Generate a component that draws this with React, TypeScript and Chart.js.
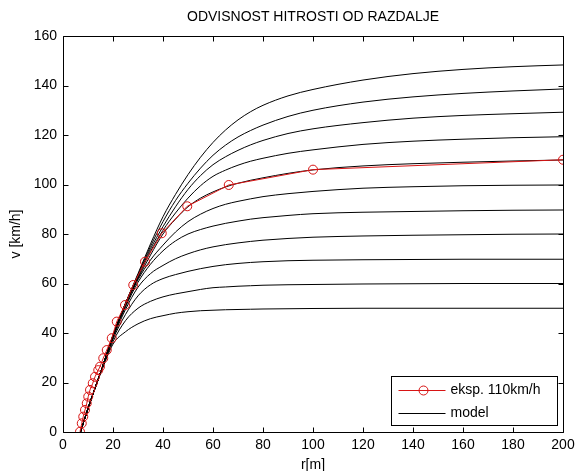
import React, { useEffect, useRef } from "react";
import { Chart, registerables } from "chart.js";

Chart.register(...registerables);

const FONT = '"Liberation Sans", Arial, Helvetica, sans-serif';

const TITLE = "ODVISNOST HITROSTI OD RAZDALJE";
const X_LABEL = "r[m]";
const Y_LABEL = "v [km/h]";
const LEGEND_EXP = "eksp. 110km/h";
const LEGEND_MODEL = "model";

const X_TICKS = [0, 20, 40, 60, 80, 100, 120, 140, 160, 180, 200];
const Y_TICKS = [0, 20, 40, 60, 80, 100, 120, 140, 160];

// experimental measurement (red circles)
const expR = [6.8, 7.5, 8.1, 8.8, 9.5, 10.1, 10.8, 11.9, 12.8, 14.1, 14.8, 16.1, 17.5, 19.5, 21.5, 24.8, 28.1, 32.8, 39.5, 49.7, 66.3, 100, 200];
const expV = [0.1, 3.5, 6.2, 8.9, 11.6, 14.3, 17, 19.7, 22.3, 25, 26.4, 29.8, 33.1, 37.9, 44.6, 51.3, 59.4, 68.8, 80.3, 91.2, 99.8, 106, 110];

// model curves (black)
const modelR = [7, 10, 15, 20, 25, 30, 35, 40, 45, 50, 55, 60, 65, 70, 75, 80, 90, 100, 120, 140, 160, 180, 200];
const model50 = [0, 9.5, 23.5, 35.5, 40.5, 43.7, 45.8, 47, 48, 48.6, 49, 49.2, 49.4, 49.5, 49.6, 49.7, 49.8, 49.9, 50, 50, 50, 50, 50];
const model60 = [0, 9.5, 24, 36.5, 45, 50, 52.8, 54.6, 55.8, 56.7, 57.6, 58.3, 58.6, 58.9, 59.1, 59.3, 59.5, 59.6, 59.8, 59.9, 60, 60, 60];
const model70 = [0, 9.5, 24, 37.5, 47.5, 55, 59.5, 62, 63.6, 64.9, 66, 66.9, 67.6, 68.1, 68.5, 68.8, 69.2, 69.4, 69.6, 69.7, 69.8, 69.8, 69.8];
const model80 = [0, 9.5, 24, 38, 49.5, 58.5, 64, 67.3, 70, 72, 73.6, 74.8, 75.7, 76.4, 77, 77.5, 78.2, 78.7, 79.2, 79.5, 79.7, 79.9, 80];
const model90 = [0, 9.5, 24, 38.5, 50.5, 60.5, 67.8, 73.2, 77.2, 80, 81.8, 83.2, 84.3, 85.2, 86, 86.6, 87.5, 88.2, 88.8, 89.1, 89.4, 89.6, 89.7];
const model100 = [0, 9.5, 24, 38.5, 51, 61.5, 69.5, 75.5, 80.8, 85, 88, 90.3, 92, 93.2, 94.2, 95.1, 96.3, 97.2, 98.5, 99.1, 99.5, 99.7, 99.8];
const model110 = [0, 9.5, 24, 39, 51.5, 62, 71.5, 80, 86, 91, 94.5, 97, 99, 100.5, 101.7, 102.7, 104.5, 105.9, 107.5, 108.4, 109, 109.5, 109.9];
const model120 = [0, 9.5, 24, 39, 52, 62.5, 73, 81.5, 88.5, 94.5, 99.5, 103.3, 105.8, 107.8, 109.4, 110.6, 112.6, 114, 116.2, 117.5, 118.3, 118.9, 119.3];
const model130 = [0, 9.5, 24, 39, 52, 63, 74, 83, 91, 98, 103.6, 108, 111.2, 113.8, 116, 117.8, 120.6, 122.5, 125, 126.8, 127.9, 128.6, 129.2];
const model140 = [0, 9.5, 24, 39, 52, 63.5, 75, 85, 93.5, 100.5, 106.6, 111.8, 115.9, 119.2, 121.8, 124, 127.5, 130, 133.3, 135.4, 136.8, 137.8, 138.6];
const model150 = [0, 9.5, 24, 39, 52, 64, 76, 87, 96, 104, 111, 117, 122, 126.1, 129.4, 132, 135.8, 138.4, 142.2, 144.8, 146.5, 147.6, 148.3];

const MODELS = [model50, model60, model70, model80, model90, model100, model110, model120, model130, model140, model150];

const RED = "#d81414";

const framePlugin = {
  id: "matlabFrame",
  beforeDraw(chart: any) {
    const ctx = chart.ctx;
    ctx.save();
    ctx.fillStyle = "#ffffff";
    ctx.fillRect(0, 0, chart.width, chart.height);
    ctx.restore();
  },
  afterDraw(chart: any) {
    const ctx = chart.ctx;
    const a = chart.chartArea;
    const xs = chart.scales.x;
    const ys = chart.scales.y;
    const L = Math.round(a.left) + 0.5;
    const R = Math.round(a.right) + 0.5;
    const T = Math.round(a.top) + 0.5;
    const B = Math.round(a.bottom) + 0.5;
    const tl = 5;
    ctx.save();
    ctx.strokeStyle = "#000";
    ctx.lineWidth = 1;
    ctx.beginPath();
    ctx.rect(L, T, R - L, B - T);
    X_TICKS.forEach((v) => {
      const px = Math.round(xs.getPixelForValue(v)) + 0.5;
      ctx.moveTo(px, B);
      ctx.lineTo(px, B - tl);
      ctx.moveTo(px, T);
      ctx.lineTo(px, T + tl);
    });
    Y_TICKS.forEach((v) => {
      const py = Math.round(ys.getPixelForValue(v)) + 0.5;
      ctx.moveTo(L, py);
      ctx.lineTo(L + tl, py);
      ctx.moveTo(R, py);
      ctx.lineTo(R - tl, py);
    });
    ctx.stroke();

    // title and axis labels
    ctx.fillStyle = "#000";
    ctx.font = `14px ${FONT}`;
    ctx.textAlign = "center";
    ctx.textBaseline = "middle";
    const cx = (a.left + a.right) / 2;
    ctx.fillText(TITLE, cx, 17);
    ctx.fillText(X_LABEL, cx, 465);
    ctx.save();
    ctx.translate(16, (a.top + a.bottom) / 2);
    ctx.rotate(-Math.PI / 2);
    ctx.fillText(Y_LABEL, 0, 0);
    ctx.restore();

    // legend
    const lw = 166;
    const lh = 49;
    const lx = Math.round(a.right) - 6 - lw + 0.5;
    const ly = Math.round(a.bottom) - 7 - lh + 0.5;
    ctx.fillStyle = "#fff";
    ctx.fillRect(lx, ly, lw, lh);
    ctx.strokeStyle = "#000";
    ctx.strokeRect(lx, ly, lw, lh);
    const r1 = ly + 14;
    const r2 = ly + 37;
    ctx.strokeStyle = RED;
    ctx.beginPath();
    ctx.moveTo(lx + 7, r1);
    ctx.lineTo(lx + 54, r1);
    ctx.stroke();
    ctx.beginPath();
    ctx.arc(lx + 32, r1, 4.5, 0, Math.PI * 2);
    ctx.stroke();
    ctx.strokeStyle = "#000";
    ctx.beginPath();
    ctx.moveTo(lx + 7, r2);
    ctx.lineTo(lx + 54, r2);
    ctx.stroke();
    ctx.fillStyle = "#000";
    ctx.textAlign = "left";
    ctx.fillText(LEGEND_EXP, lx + 59, r1);
    ctx.fillText(LEGEND_MODEL, lx + 59, r2);
    ctx.restore();
  },
};

export default function App() {
  const ref = useRef<HTMLCanvasElement>(null);

  useEffect(() => {
    const datasets: any[] = [
      {
        label: LEGEND_EXP,
        data: expR.map((r, i) => ({ x: r, y: expV[i] })),
        showLine: true,
        borderColor: RED,
        borderWidth: 1,
        pointRadius: 4.5,
        pointBorderWidth: 1,
        pointBorderColor: RED,
        pointBackgroundColor: "rgba(0,0,0,0)",
        pointStyle: "circle",
        tension: 0,
      },
      ...MODELS.map((vals, k) => ({
        label: k === 0 ? LEGEND_MODEL : `model ${k}`,
        data: modelR.map((r, i) => ({ x: r, y: vals[i] })),
        showLine: true,
        borderColor: "#000",
        borderWidth: 1,
        pointRadius: 0,
        cubicInterpolationMode: "monotone",
      })),
    ];

    const chart = new Chart(ref.current!, {
      type: "scatter",
      data: { datasets },
      plugins: [framePlugin],
      options: {
        animation: false,
        responsive: false,
        devicePixelRatio: 1,
        events: [],
        layout: { padding: { top: 36, right: 14, left: 0, bottom: 0 } },
        plugins: {
          legend: { display: false },
          title: { display: false },
          tooltip: { enabled: false },
        },
        scales: {
          x: {
            type: "linear",
            min: 0,
            max: 200,
            afterFit: (s: any) => {
              s.height = 39;
              s.paddingLeft = 0;
              s.paddingRight = 0;
            },
            afterBuildTicks: (s: any) => {
              s.ticks = X_TICKS.map((v) => ({ value: v }));
            },
            grid: { display: false, drawTicks: false },
            border: { display: false },
            ticks: {
              padding: 5,
              color: "#000",
              font: { family: FONT, size: 14 },
              maxRotation: 0,
              autoSkip: false,
            },
          },
          y: {
            type: "linear",
            min: 0,
            max: 160,
            afterFit: (s: any) => {
              s.width = 63;
              s.paddingTop = 0;
              s.paddingBottom = 0;
            },
            afterBuildTicks: (s: any) => {
              s.ticks = Y_TICKS.map((v) => ({ value: v }));
            },
            grid: { display: false, drawTicks: false },
            border: { display: false },
            ticks: {
              padding: 6,
              color: "#000",
              font: { family: FONT, size: 14 },
              autoSkip: false,
            },
          },
        },
      },
    } as any);

    return () => chart.destroy();
  }, []);

  return (
    <div style={{ position: "fixed", left: 0, top: 0, width: 577, height: 471, background: "#fff" }}>
      <canvas ref={ref} width={577} height={471} style={{ width: 577, height: 471, display: "block" }} />
    </div>
  );
}
